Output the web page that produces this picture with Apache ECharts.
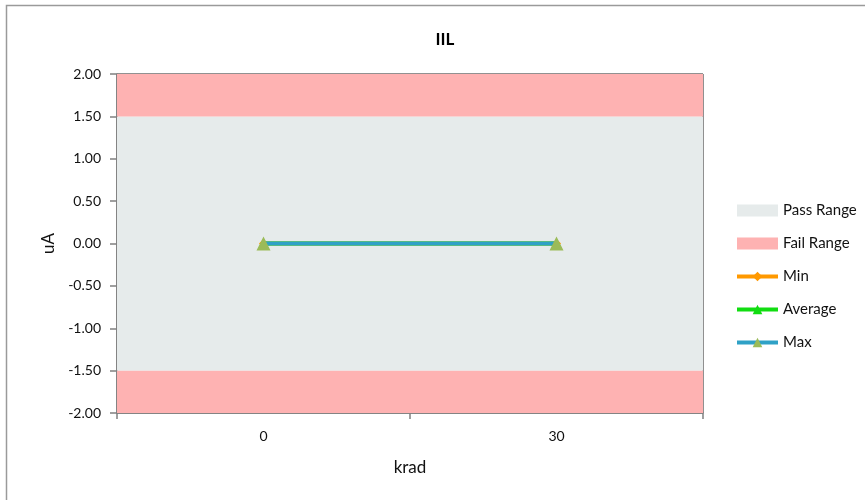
<!DOCTYPE html>
<html>
<head>
<meta charset="utf-8">
<script src="https://cdn.jsdelivr.net/npm/echarts@6/dist/echarts.min.js"></script>
<style>html,body{margin:0;padding:0;background:#fff}#c{width:865px;height:500px}</style>
</head>
<body>
<div id="c"></div>
<script>
const categories = ['0', '30'];
const minValues = [0, 0];
const avgValues = [0, 0];
const maxValues = [0, 0];
const passRange = [-1.5, 1.5];
const failUpper = [1.5, 2.0];
const failLower = [-2.0, -1.5];
const yTicks = { min: -2, max: 2, interval: 0.5 };

const font = 'Lato, Open Sans, Liberation Sans, sans-serif';
const chart = echarts.init(document.getElementById('c'));
chart.setOption({
  animation: false,
  backgroundColor: '#fff',
  graphic: [{
    type: 'rect', shape: { x: 6.5, y: 5.5, width: 1000, height: 1000 },
    style: { fill: 'none', stroke: '#9a9a9a', lineWidth: 1.5 }, silent: true
  }],
  title: {
    text: 'IIL', left: 440, top: 26, textAlign: 'center',
    textStyle: { fontSize: 17, fontWeight: 'bold', color: '#000', fontFamily: font }
  },
  grid: { left: 117, right: 162, top: 74, bottom: 87, show: true, borderColor: '#222', borderWidth: 1 },
  legend: {
    orient: 'vertical', left: 735, top: 203, padding: 0, itemGap: 18, itemWidth: 41, itemHeight: 12,
    textStyle: { fontSize: 15, color: '#111', fontFamily: font },
    data: [
      { name: 'Pass Range', icon: 'rect' },
      { name: 'Fail Range', icon: 'rect' },
      { name: 'Min', lineStyle: { width: 4 } },
      { name: 'Average', lineStyle: { width: 4 } },
      { name: 'Max', lineStyle: { width: 4 } }
    ]
  },
  xAxis: {
    type: 'category', data: categories, boundaryGap: true,
    name: 'krad', nameLocation: 'middle', nameGap: 46,
    nameTextStyle: { fontSize: 17, color: '#111', fontFamily: font },
    axisLine: { show: true, onZero: false, lineStyle: { color: '#808080', width: 1.5 } },
    axisTick: { show: true, inside: false, length: 6, lineStyle: { color: '#808080', width: 1.5 } },
    axisLabel: { fontSize: 14, color: '#111', margin: 16, fontFamily: font }
  },
  yAxis: {
    type: 'value', min: yTicks.min, max: yTicks.max, interval: yTicks.interval,
    name: 'uA', nameLocation: 'middle', nameGap: 38,
    nameTextStyle: { fontSize: 17, color: '#111', fontFamily: font },
    axisLine: { show: true, onZero: false, lineStyle: { color: '#808080', width: 1.5 } },
    axisTick: { show: true, inside: false, length: 7, lineStyle: { color: '#808080', width: 1.5 } },
    splitLine: { show: false },
    axisLabel: { fontSize: 14, color: '#111', margin: 16, fontFamily: font, formatter: v => v.toFixed(2) }
  },
  series: [
    {
      name: 'Pass Range', type: 'line', data: [], itemStyle: { color: '#e6ebeb' },
      markArea: { silent: true, itemStyle: { color: '#e6ebeb' },
        data: [[{ yAxis: passRange[0] }, { yAxis: passRange[1] }]] }
    },
    {
      name: 'Fail Range', type: 'line', data: [], itemStyle: { color: '#feb2b2' },
      markArea: { silent: true, itemStyle: { color: '#feb2b2' },
        data: [[{ yAxis: failUpper[0] }, { yAxis: failUpper[1] }], [{ yAxis: failLower[0] }, { yAxis: failLower[1] }]] }
    },
    {
      name: 'Min', type: 'line', data: minValues, symbol: 'diamond', symbolSize: 9,
      lineStyle: { color: '#ff9900', width: 4 }, itemStyle: { color: '#ff9900' }, z: 3
    },
    {
      name: 'Average', type: 'line', data: avgValues, symbol: 'triangle', symbolSize: 11,
      lineStyle: { color: '#11dd11', width: 4 }, itemStyle: { color: '#11dd11' }, z: 4
    },
    {
      name: 'Max', type: 'line', data: maxValues, symbol: 'triangle', symbolSize: 14,
      lineStyle: { color: '#2fa1c6', width: 4 }, itemStyle: { color: '#9bbb59' }, z: 5
    }
  ]
});
</script>
</body>
</html>
